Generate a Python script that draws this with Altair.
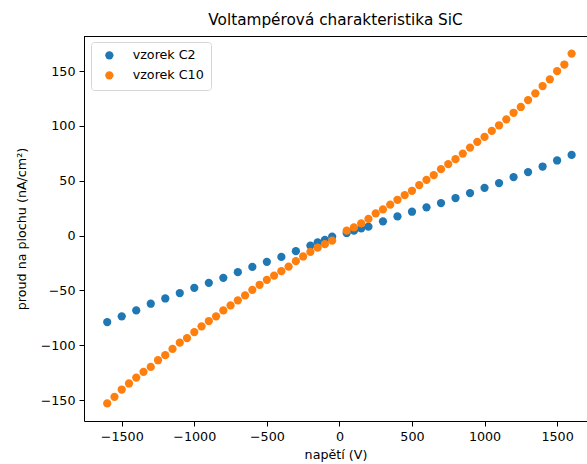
import altair as alt
import pandas as pd

# Voltage steps (V) and current density (nA/cm²) for both samples
napeti_c2 = [-1600, -1500, -1400, -1300, -1200, -1100, -1000, -900, -800, -700,
             -600, -500, -400, -300, -200, -150, -100, -50,
             50, 100, 150, 200, 300, 400, 500, 600, 700, 800, 900, 1000,
             1100, 1200, 1300, 1400, 1500, 1600]
proud_c2 = [-78.8, -73.6, -68.2, -62.1, -57.3, -52.4, -47.6, -43.0, -38.5, -33.3,
            -28.5, -23.9, -19.4, -14.2, -9.1, -6.1, -3.9, -0.9,
            2.4, 4.5, 6.6, 8.2, 13.0, 17.5, 21.8, 25.8, 29.7, 34.3, 38.8, 43.6,
            47.9, 53.4, 57.9, 63.0, 68.5, 73.6]

napeti_c10 = [-1600, -1550, -1500, -1450, -1400, -1350, -1300, -1250, -1200, -1150,
              -1100, -1050, -1000, -950, -900, -850, -800, -750, -700, -650,
              -600, -550, -500, -450, -400, -350, -300, -250, -200, -150,
              -100, -50,
              50, 100, 150, 200, 250, 300, 350, 400, 450, 500,
              550, 600, 650, 700, 750, 800, 850, 900, 950, 1000,
              1050, 1100, 1150, 1200, 1250, 1300, 1350, 1400, 1450, 1500,
              1550, 1600]
proud_c10 = [-153.0, -147.0, -140.3, -134.8, -129.4, -124.2, -119.7, -113.6, -109.0, -103.3,
             -97.6, -93.4, -87.9, -82.7, -77.9, -73.6, -68.2, -63.6, -59.0, -54.5,
             -49.4, -44.8, -40.3, -36.4, -32.4, -28.2, -23.3, -19.0, -14.8, -11.0,
             -7.8, -4.5,
             4.5, 7.5, 11.2, 15.2, 20.3, 24.0, 28.2, 32.7, 37.0, 40.9,
             46.1, 50.9, 55.2, 60.6, 65.2, 69.7, 74.8, 80.3, 85.5, 90.0,
             95.5, 100.6, 106.0, 112.0, 117.3, 123.6, 129.7, 136.4, 142.5, 150.0,
             156.0, 166.0]

vzorky = ["vzorek C2", "vzorek C10"]
barvy = ["#1f77b4", "#ff7f0e"]

x_ticks = [-1500, -1000, -500, 0, 500, 1000, 1500]
y_ticks = [-150, -100, -50, 0, 50, 100, 150]

df = pd.concat([
    pd.DataFrame({"napeti": napeti_c2, "proud": proud_c2, "vzorek": vzorky[0]}),
    pd.DataFrame({"napeti": napeti_c10, "proud": proud_c10, "vzorek": vzorky[1]}),
], ignore_index=True)

W, H = 503, 385
FONT = "DejaVu Sans"

body = alt.Chart(df).mark_circle(size=68, opacity=1).encode(
    x=alt.X("napeti:Q",
            scale=alt.Scale(domain=[-1760, 1706], nice=False, zero=False),
            axis=alt.Axis(values=x_ticks, title="napětí (V)", format="d", titlePadding=6)),
    y=alt.Y("proud:Q",
            scale=alt.Scale(domain=[-169, 182], nice=False, zero=False),
            axis=alt.Axis(values=y_ticks, title="proud na plochu (nA/cm²)", format="d",
                          titlePadding=12)),
    color=alt.Color("vzorek:N",
                    scale=alt.Scale(domain=vzorky, range=barvy),
                    sort=vzorky,
                    legend=alt.Legend(title=None, orient="none", legendX=7, legendY=6)),
)

# top frame line of the axes box
top_line = alt.Chart(df).mark_rule(color="black", strokeWidth=1).encode(
    x=alt.value(0), x2=alt.value(W), y=alt.value(0.5)
)

chart = alt.layer(body, top_line).properties(
    width=W, height=H,
    title=alt.TitleParams("Voltampérová charakteristika SiC", offset=8),
    padding={"left": 84, "top": 36, "right": 0, "bottom": 43},
    autosize=alt.AutoSizeParams(type="none"),
).configure_view(
    stroke=None
).configure_axis(
    grid=False,
    domainColor="black", domainWidth=1,
    tickColor="black", tickWidth=1, tickSize=5,
    labelColor="black", labelFont=FONT, labelFontSize=12.7, labelPadding=4,
    titleColor="black", titleFont=FONT, titleFontSize=12.7, titleFontWeight="normal",
).configure_title(
    font=FONT, fontSize=15.3, fontWeight="normal", color="black", anchor="middle"
).configure_legend(
    labelFont=FONT, labelFontSize=12.7, labelColor="black",
    symbolType="circle", symbolSize=68, symbolStrokeWidth=0, symbolOpacity=1,
    padding=7, rowPadding=6, labelOffset=17, symbolOffset=5,
    strokeColor="#d6d6d6", fillColor="rgba(255,255,255,0.8)", cornerRadius=3,
)

chart.save("out.html", embed_options={"renderer": "svg", "actions": False})
